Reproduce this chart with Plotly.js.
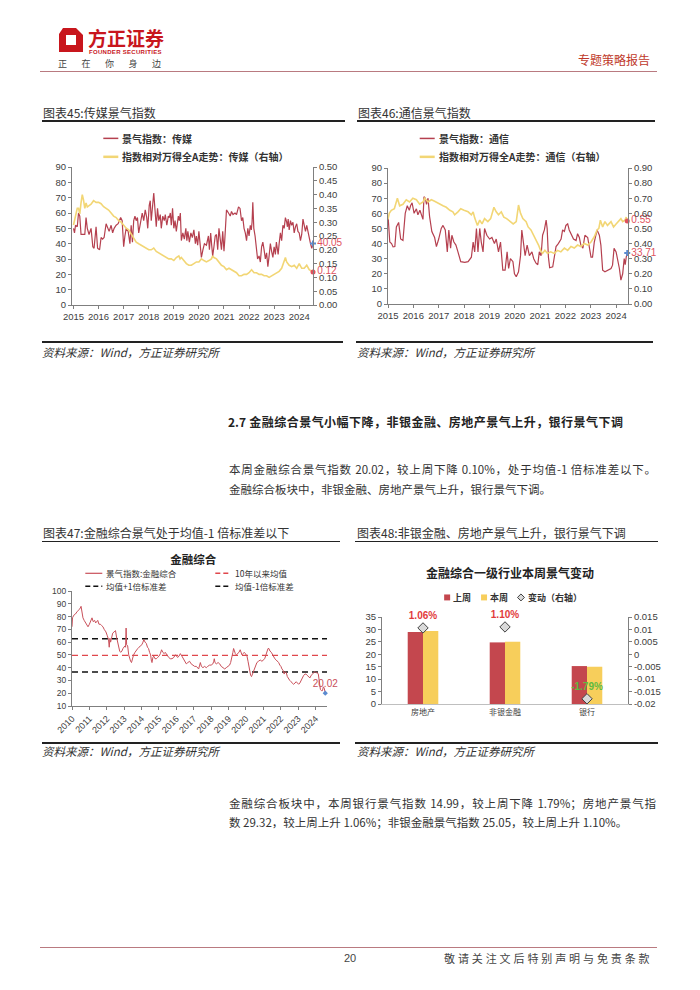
<!DOCTYPE html>
<html><head><meta charset="utf-8">
<script src="https://cdn.plot.ly/plotly-3.0.1.min.js"></script>
<style>
html,body{margin:0;padding:0;background:#fff;}
#page{position:relative;width:700px;height:990px;overflow:hidden;background:#fff;font-family:"Noto Sans CJK SC",sans-serif;color:#333;}
.t{position:absolute;white-space:nowrap;line-height:1;transform:translateY(-50%);}
.j{white-space:normal;text-align:justify;text-align-last:justify;}
.rule{position:absolute;}
.chart{position:absolute;}
</style></head><body><div id="page"></div>
<script>
// ---------------- DATA ----------------
// Chart 45: 传媒
const yearTicks15 = ['2015','2016','2017','2018','2019','2020','2021','2022','2023','2024'];
const mediaX = [2015.00,2015.04,2015.08,2015.15,2015.20,2015.25,2015.30,2015.38,2015.45,2015.50,2015.55,2015.62,2015.70,2015.77,2015.82,2015.90,2015.96,2016.04,2016.10,2016.16,2016.22,2016.30,2016.36,2016.42,2016.50,2016.56,2016.62,2016.70,2016.78,2016.88,2016.94,2017.00,2017.05,2017.10,2017.18,2017.25,2017.30,2017.35,2017.40,2017.45,2017.50,2017.55,2017.60,2017.66,2017.74,2017.80,2017.86,2017.92,2017.96,2018.02,2018.06,2018.10,2018.15,2018.20,2018.25,2018.30,2018.35,2018.40,2018.46,2018.50,2018.56,2018.62,2018.66,2018.72,2018.78,2018.82,2018.86,2018.90,2018.95,2019.00,2019.05,2019.10,2019.18,2019.22,2019.26,2019.30,2019.36,2019.42,2019.48,2019.52,2019.56,2019.62,2019.68,2019.74,2019.80,2019.86,2019.90,2019.95,2020.00,2020.05,2020.10,2020.16,2020.22,2020.30,2020.38,2020.42,2020.47,2020.51,2020.55,2020.60,2020.65,2020.70,2020.75,2020.80,2020.85,2020.90,2020.95,2021.00,2021.03,2021.06,2021.10,2021.18,2021.25,2021.30,2021.36,2021.44,2021.50,2021.58,2021.64,2021.70,2021.75,2021.80,2021.85,2021.90,2021.95,2022.00,2022.05,2022.09,2022.12,2022.15,2022.19,2022.24,2022.29,2022.34,2022.40,2022.45,2022.50,2022.55,2022.60,2022.65,2022.70,2022.75,2022.80,2022.85,2022.90,2022.95,2023.00,2023.05,2023.09,2023.12,2023.16,2023.20,2023.25,2023.30,2023.35,2023.40,2023.45,2023.50,2023.53,2023.56,2023.60,2023.65,2023.70,2023.75,2023.80,2023.85,2023.90,2023.95,2024.00,2024.05,2024.10,2024.15,2024.20,2024.25,2024.30,2024.35,2024.40,2024.45,2024.50,2024.55];
const mediaIdx = [50,47,52,51,60,58,46,46,46,57,50,46,50,38,37,51,37,36,44,43,44,53,50,48,52,47,50,52,53,57,55,38,45,50,48,40,52,41,55,58,55,57,47,52,60,55,62,57,50,65,68,55,64,73,62,51,63,55,59,50,58,55,59,52,58,57,60,52,63,50,55,48,58,55,60,42,47,43,50,42,48,41,47,44,49,40,45,39,48,37,31,36,40,39,45,36,47,39,32,38,45,46,36,50,42,36,48,35,42,50,62,60,58,61,59,60,59,64,63,55,57,50,47,42,50,45,52,49,54,67,50,45,38,30,32,28,38,41,36,30,34,25,32,40,35,31,38,33,41,36,33,40,47,42,52,50,57,54,51,56,49,55,52,54,47,51,53,48,47,42,46,56,51,48,52,47,44,40,37,40.05];
const mediaRelX = [2015.00,2015.06,2015.10,2015.15,2015.20,2015.25,2015.30,2015.35,2015.40,2015.45,2015.50,2015.55,2015.62,2015.70,2015.80,2015.90,2016.00,2016.10,2016.20,2016.30,2016.40,2016.50,2016.60,2016.70,2016.80,2016.90,2017.00,2017.10,2017.20,2017.30,2017.40,2017.50,2017.60,2017.70,2017.80,2017.90,2018.00,2018.10,2018.20,2018.30,2018.40,2018.50,2018.60,2018.70,2018.80,2018.90,2019.00,2019.10,2019.20,2019.25,2019.30,2019.40,2019.50,2019.60,2019.70,2019.80,2019.90,2020.00,2020.10,2020.20,2020.30,2020.40,2020.50,2020.55,2020.60,2020.70,2020.80,2020.90,2021.00,2021.10,2021.20,2021.30,2021.40,2021.50,2021.60,2021.70,2021.80,2021.90,2022.00,2022.10,2022.20,2022.30,2022.40,2022.50,2022.60,2022.70,2022.80,2022.90,2023.00,2023.10,2023.20,2023.30,2023.40,2023.45,2023.50,2023.60,2023.70,2023.80,2023.90,2024.00,2024.10,2024.20,2024.30,2024.40,2024.50,2024.55];
const mediaRel = [0.29,0.31,0.33,0.35,0.35,0.33,0.37,0.40,0.38,0.35,0.37,0.355,0.36,0.365,0.378,0.372,0.372,0.367,0.356,0.35,0.344,0.333,0.322,0.317,0.306,0.30,0.289,0.278,0.272,0.256,0.244,0.228,0.222,0.217,0.211,0.206,0.20,0.20,0.206,0.194,0.189,0.183,0.178,0.172,0.167,0.167,0.161,0.172,0.178,0.167,0.172,0.161,0.15,0.144,0.144,0.15,0.156,0.156,0.167,0.161,0.156,0.161,0.167,0.178,0.172,0.167,0.156,0.144,0.139,0.128,0.133,0.128,0.122,0.117,0.106,0.106,0.111,0.111,0.117,0.128,0.117,0.117,0.111,0.111,0.106,0.106,0.10,0.106,0.111,0.117,0.122,0.133,0.156,0.172,0.156,0.144,0.139,0.144,0.133,0.15,0.133,0.133,0.144,0.128,0.122,0.12];

// Chart 46: 通信
const commX = [2015.00,2015.07,2015.14,2015.20,2015.27,2015.33,2015.42,2015.50,2015.59,2015.68,2015.76,2015.84,2015.89,2015.95,2016.03,2016.12,2016.18,2016.26,2016.34,2016.38,2016.42,2016.47,2016.52,2016.58,2016.64,2016.73,2016.84,2016.91,2017.00,2017.10,2017.17,2017.26,2017.34,2017.40,2017.47,2017.52,2017.60,2017.68,2017.76,2017.87,2018.03,2018.16,2018.29,2018.36,2018.42,2018.49,2018.55,2018.62,2018.68,2018.75,2018.81,2018.90,2019.01,2019.10,2019.20,2019.27,2019.36,2019.44,2019.53,2019.62,2019.70,2019.76,2019.83,2019.93,2019.99,2020.06,2020.15,2020.23,2020.28,2020.36,2020.41,2020.49,2020.58,2020.68,2020.75,2020.84,2020.91,2020.97,2021.04,2021.10,2021.17,2021.24,2021.28,2021.33,2021.38,2021.50,2021.56,2021.63,2021.72,2021.83,2021.89,2021.96,2022.02,2022.09,2022.15,2022.25,2022.32,2022.42,2022.48,2022.55,2022.61,2022.69,2022.77,2022.88,2022.94,2023.01,2023.07,2023.14,2023.25,2023.34,2023.40,2023.47,2023.56,2023.66,2023.80,2023.86,2023.92,2024.00,2024.06,2024.13,2024.19,2024.26,2024.32,2024.36,2024.40,2024.44];
const commIdx = [58.8,41,40,37.8,38,51,54,43,42,60,65,62,65,67,60,63,59,62,58,56,71,70,66,70,58,48,44,38,43,50,52,49,34.5,49,37,45.5,41,39,34.5,28,27.5,28,31,41,34.5,50,34.5,50,41,34.5,50,45.5,43,44,40,43,34.5,41,22.4,22.4,34.5,23.5,30,28,20,18,21.3,32,49,40,32,39,32,34.5,30,27,26,34.5,32,45.5,49,55.5,50,31,24,24.6,30,38,40,43,49,48,52,53,49,45.5,43,42,46.5,44,39,37,45.5,44,38,31,31,41,49,45.5,39,22.4,21.3,22.4,23.5,25.7,36.8,34.5,30,23.5,15.8,20,30,26,31,33.71];
const commRelX = [2015.00,2015.05,2015.13,2015.25,2015.37,2015.46,2015.59,2015.72,2015.85,2015.98,2016.12,2016.25,2016.38,2016.45,2016.58,2016.71,2016.84,2017.04,2017.17,2017.30,2017.44,2017.56,2017.63,2017.76,2017.87,2018.00,2018.16,2018.29,2018.36,2018.42,2018.53,2018.62,2018.71,2018.81,2018.94,2019.05,2019.12,2019.18,2019.27,2019.36,2019.47,2019.57,2019.68,2019.81,2019.94,2020.06,2020.15,2020.23,2020.32,2020.45,2020.53,2020.64,2020.75,2020.84,2020.94,2021.02,2021.10,2021.19,2021.29,2021.42,2021.56,2021.69,2021.82,2021.96,2022.09,2022.22,2022.35,2022.48,2022.61,2022.74,2022.88,2023.01,2023.14,2023.25,2023.32,2023.38,2023.47,2023.56,2023.66,2023.80,2023.90,2024.00,2024.10,2024.19,2024.26,2024.35,2024.40,2024.44];
const commRel = [0.56,0.60,0.62,0.63,0.70,0.65,0.66,0.69,0.675,0.70,0.69,0.66,0.675,0.70,0.675,0.69,0.68,0.665,0.65,0.64,0.62,0.61,0.59,0.61,0.63,0.62,0.61,0.59,0.61,0.57,0.52,0.555,0.53,0.565,0.545,0.565,0.61,0.64,0.61,0.59,0.61,0.575,0.565,0.545,0.53,0.545,0.655,0.60,0.565,0.545,0.51,0.49,0.455,0.42,0.39,0.355,0.335,0.355,0.335,0.345,0.335,0.355,0.345,0.37,0.355,0.38,0.37,0.39,0.38,0.40,0.39,0.41,0.445,0.49,0.50,0.555,0.51,0.545,0.52,0.545,0.51,0.53,0.545,0.565,0.545,0.555,0.575,0.55];

// Chart 47: 金融综合
const yearTicks10 = ['2010','2011','2012','2013','2014','2015','2016','2017','2018','2019','2020','2021','2022','2023','2024'];
const finX = [2010.00,2010.03,2010.10,2010.20,2010.30,2010.45,2010.52,2010.58,2010.63,2010.70,2010.77,2010.85,2010.92,2011.00,2011.07,2011.15,2011.22,2011.30,2011.36,2011.42,2011.48,2011.55,2011.63,2011.70,2011.78,2011.85,2011.95,2012.03,2012.10,2012.14,2012.18,2012.22,2012.28,2012.34,2012.42,2012.50,2012.56,2012.62,2012.68,2012.74,2012.80,2012.87,2012.93,2012.98,2013.04,2013.08,2013.11,2013.14,2013.20,2013.26,2013.31,2013.37,2013.42,2013.48,2013.54,2013.62,2013.70,2013.78,2013.85,2013.93,2014.02,2014.08,2014.13,2014.20,2014.27,2014.34,2014.40,2014.46,2014.52,2014.57,2014.60,2014.65,2014.70,2014.77,2014.85,2014.92,2015.00,2015.08,2015.15,2015.22,2015.30,2015.36,2015.45,2015.56,2015.65,2015.75,2015.85,2015.94,2016.02,2016.07,2016.15,2016.23,2016.32,2016.42,2016.50,2016.57,2016.66,2016.76,2016.85,2016.95,2017.05,2017.15,2017.22,2017.28,2017.34,2017.38,2017.44,2017.53,2017.62,2017.72,2017.80,2017.91,2018.00,2018.10,2018.15,2018.18,2018.22,2018.30,2018.40,2018.49,2018.58,2018.68,2018.78,2018.87,2018.96,2019.06,2019.12,2019.20,2019.25,2019.29,2019.34,2019.39,2019.45,2019.52,2019.60,2019.67,2019.72,2019.77,2019.84,2019.90,2019.97,2020.06,2020.12,2020.17,2020.22,2020.27,2020.32,2020.38,2020.45,2020.55,2020.63,2020.72,2020.82,2020.92,2021.02,2021.08,2021.15,2021.21,2021.27,2021.32,2021.38,2021.46,2021.53,2021.59,2021.66,2021.74,2021.81,2021.88,2021.95,2022.01,2022.07,2022.13,2022.17,2022.20,2022.26,2022.32,2022.38,2022.45,2022.52,2022.59,2022.66,2022.74,2022.82,2022.89,2022.96,2023.03,2023.10,2023.16,2023.24,2023.32,2023.40,2023.45,2023.52,2023.60,2023.68,2023.75,2023.82,2023.90,2023.97,2024.04,2024.10,2024.16,2024.20,2024.23,2024.28,2024.34,2024.40,2024.45,2024.50,2024.56];
const finIdx = [72,79,81,82,84,86,88,82,79,77,75,73,72,74,76,79,76,77,75,76,77,74,74,73,72,70,68,65,62,56,63,60,64,67,68,69,64,60,56,53,52,53,55,56,57,56,71,58,57,50,47,45,44,48,50,52,54,55,56,57,58,60,62,60,59,56,55,52,50,45,44,48,49,47,47,48,49,51,54,52,51,52,50,48,47,47,48,50,49,48,49,51,49,47,45,43,44,45,43,42,41,41,40,39,42,44,41,40,41,40,41,42,42,43,45,47,44,43,44,43,41,40,39,40,41,42,44,48,52,55,52,51,50,51,52,54,52,50,51,52,51,49,45,40,36,34,33,35,38,41,44,45,46,45,46,47,50,53,55,55,53,52,50,49,47,46,45,44,42,41,39,38,36,35,37,36,33,31,30,29,28,27,28,29,28,27,28,30,32,34,35,35,34,33,32,34,35,36,37,36,36,35,30,25,23,22,22,25,24,20.02];
const finMean = 49.6, finUpper = 62.6, finLower = 36.6;

// Chart 48: 金融综合一级行业本周景气变动
const sectors = ['房地产','非银金融','银行'];
const lastWeek = [29.01, 24.78, 15.26];
const thisWeek = [29.32, 25.05, 14.99];
const weeklyChange = [0.0106, 0.0110, -0.0179];
const changeText = ['1.06%','1.10%','-1.79%'];
const rightTickVals48 = [0.015,0.01,0.005,0,-0.005,-0.01,-0.015,-0.02];
const rightTickText48 = ['0.015','0.01','0.005','0','-0.005','-0.01','-0.015','-0.02'];

// ---------------- PAGE ----------------
const page = document.getElementById('page');
function addText(x, y, str, style, cls) {
  const d = document.createElement('div');
  d.className = 't' + (cls ? ' ' + cls : '');
  d.style.left = x + 'px'; d.style.top = y + 'px';
  d.textContent = str; Object.assign(d.style, style || {});
  page.appendChild(d); return d;
}
function addRule(x0, x1, y, h, color) {
  const d = document.createElement('div'); d.className = 'rule';
  Object.assign(d.style, {left: x0 + 'px', width: (x1 - x0) + 'px', top: y + 'px', height: h + 'px', background: color});
  page.appendChild(d);
}
const RED = '#C8161D';
// header
const logo = document.createElementNS('http://www.w3.org/2000/svg', 'svg');
logo.setAttribute('width', '28'); logo.setAttribute('height', '28');
logo.style.position = 'absolute'; logo.style.left = '57px'; logo.style.top = '26px';
logo.innerHTML = '<path d="M6 2 L26 2 L26 26 L2 26 L2 8 Z" fill="' + RED + '"/><path d="M9 9 L19 9 L19 19 L9 19 Z" fill="#fff"/><path d="M19 2 L26 2 L26 9 Z" fill="#fff"/>';
page.appendChild(logo);
addText(88, 37, '方正证券', {fontSize: '19px', fontWeight: 'bold', color: RED, letterSpacing: '0px'});
addText(89, 51.5, 'FOUNDER SECURITIES', {fontSize: '6px', fontWeight: 'bold', color: RED, fontFamily: '"Liberation Sans",Arial,sans-serif', letterSpacing: '0.3px'});
addText(58, 63, '正在你身边', {fontSize: '9px', color: '#444', letterSpacing: '14.5px'});
addText(578, 60, '专题策略报告', {fontSize: '12px', color: '#C0392B'});
addRule(40, 657, 70.5, 1.5, '#B97A80');

// chart titles & rules
const TSTYLE = {fontSize: '12px', color: '#333'};
addText(43, 113, '图表45:传媒景气指数', TSTYLE);
addText(358, 113, '图表46:通信景气指数', TSTYLE);
addRule(42, 345, 120, 1.6, '#222');
addRule(357, 655, 120, 1.6, '#222');
addRule(42, 343, 341, 1.6, '#222');
addRule(356, 653, 341, 1.6, '#222');
const SSTYLE = {fontSize: '11.5px', color: '#333', fontStyle: 'italic'};
addText(42, 353, '资料来源：Wind，方正证券研究所', SSTYLE);
addText(357, 353, '资料来源：Wind，方正证券研究所', SSTYLE);

// section text
addText(228, 422, '2.7 金融综合景气小幅下降，非银金融、房地产景气上升，银行景气下调', {fontSize: '12px', fontWeight: 'bold', color: '#222', width: '395px'}, 'j');
const PSTYLE = {fontSize: '11.5px', color: '#333'};
addText(229, 470, '本周金融综合景气指数 20.02，较上周下降 0.10%，处于均值-1 倍标准差以下。', Object.assign({width: '427px'}, PSTYLE), 'j');
addText(229, 489.5, '金融综合板块中，非银金融、房地产景气上升，银行景气下调。', PSTYLE);

addText(43, 533, '图表47:金融综合景气处于均值-1 倍标准差以下', TSTYLE);
addText(357, 533, '图表48:非银金融、房地产景气上升，银行景气下调', TSTYLE);
addRule(42, 340, 540.5, 1.6, '#222');
addRule(355, 658, 540.5, 1.6, '#222');
addRule(42, 340, 742, 1.6, '#222');
addRule(355, 658, 742, 1.6, '#222');
addText(42, 752, '资料来源：Wind，方正证券研究所', SSTYLE);
addText(357, 752, '资料来源：Wind，方正证券研究所', SSTYLE);

addText(229, 803.5, '金融综合板块中，本周银行景气指数 14.99，较上周下降 1.79%；房地产景气指', Object.assign({width: '427px'}, PSTYLE), 'j');
addText(229, 823, '数 29.32，较上周上升 1.06%；非银金融景气指数 25.05，较上周上升 1.10%。', PSTYLE);

// footer
addRule(40, 657, 946.5, 1.5, '#B97A80');
addText(344, 958, '20', {fontSize: '11px', color: '#444', fontFamily: '"Liberation Sans",Arial,sans-serif'});
addText(444, 958, '敬请关注文后特别声明与免责条款', {fontSize: '11px', color: '#444', letterSpacing: '2.9px'});

// ---------------- CHARTS ----------------
const NUM = 'Arial, "Liberation Sans", "Noto Sans CJK SC", sans-serif';
const CJK = '"Noto Sans CJK SC", sans-serif';
const LRED = '#B5404F', LYEL = '#F2D675';
function frame(div, plot) {
  const el = document.createElement('div'); el.className = 'chart';
  Object.assign(el.style, {left: div.left + 'px', top: div.top + 'px', width: div.w + 'px', height: div.h + 'px'});
  page.appendChild(el);
  return {
    el,
    margin: {l: plot.x0 - div.left, r: div.left + div.w - plot.x1, t: plot.y0 - div.top, b: div.top + div.h - plot.y1, pad: 0},
    px: X => (X - plot.x0) / (plot.x1 - plot.x0),
    py: Y => (plot.y1 - Y) / (plot.y1 - plot.y0),
    cy: Y => 1 - (Y - div.top) / div.h,
    div
  };
}
function axis(extra) {
  return Object.assign({showline: true, linecolor: '#7f7f7f', linewidth: 1, ticks: 'outside', ticklen: 3, tickcolor: '#7f7f7f',
    showgrid: false, zeroline: false, fixedrange: true, automargin: false, tickfont: {family: NUM, size: 9.5, color: '#404040'}}, extra);
}
function legLine(F, x0, x1, y, color, width, dash) {
  return {type: 'line', xref: 'paper', yref: 'paper', x0: F.px(x0), x1: F.px(x1), y0: F.py(y), y1: F.py(y), line: {color, width, dash: dash || 'solid'}};
}
function legText(F, x, y, text, size, bold) {
  return {xref: 'paper', yref: 'paper', x: F.px(x), y: F.py(y), text, showarrow: false, xanchor: 'left', yanchor: 'middle',
    borderpad: 0, font: {family: CJK, size, color: '#333', weight: bold ? 'bold' : 'normal'}};
}
const CFG = {staticPlot: true, displayModeBar: false};
const BASE = {paper_bgcolor: 'rgba(0,0,0,0)', plot_bgcolor: 'rgba(0,0,0,0)', showlegend: false, font: {family: NUM}};

function dualChart(F, xr, tickLabels, idxX, idxY, relX, relY, y2max, y2dtick, legendX, name, endIdx, endRel) {
  const traces = [
    {x: idxX, y: idxY, type: 'scatter', mode: 'lines', line: {color: LRED, width: 1.2}, yaxis: 'y'},
    {x: relX, y: relY, type: 'scatter', mode: 'lines', line: {color: LYEL, width: 1.6}, yaxis: 'y2'},
    {x: [idxX[idxX.length - 1]], y: [endIdx], type: 'scatter', mode: 'markers+text', yaxis: 'y', cliponaxis: false,
      marker: {color: '#5B8BD0', size: 5, symbol: 'cross'}, text: [String(endIdx)], textposition: 'middle right',
      textfont: {family: NUM, size: 10, color: '#E0525E'}},
    {x: [relX[relX.length - 1]], y: [endRel], type: 'scatter', mode: 'markers+text', yaxis: 'y2', cliponaxis: false,
      marker: {color: '#E0525E', size: 5}, text: [endRel.toFixed(2)], textposition: 'middle right',
      textfont: {family: NUM, size: 10, color: '#E0525E'}}
  ];
  const layout = Object.assign({}, BASE, {
    width: F.div.w, height: F.div.h, margin: F.margin,
    xaxis: axis({range: xr, tickvals: tickLabels.map(Number), ticktext: tickLabels, tickangle: 0}),
    yaxis: axis({range: [0, 90], dtick: 10}),
    yaxis2: axis({range: [0, y2max], dtick: y2dtick, tickformat: '.2f', overlaying: 'y', side: 'right'}),
    shapes: [legLine(F, legendX, legendX + 15, 138, LRED, 1.5), legLine(F, legendX, legendX + 15, 156.5, LYEL, 2.5)],
    annotations: [legText(F, legendX + 18, 138, '景气指数：' + name, 10, true),
      legText(F, legendX + 18, 156.5, '指数相对万得全A走势：' + name + '（右轴）', 10, true)]
  });
  Plotly.newPlot(F.el, traces, layout, CFG);
}

const F45 = frame({left: 0, top: 125, w: 350, h: 200}, {x0: 71.7, x1: 312.7, y0: 166.7, y1: 305});
dualChart(F45, [2014.94, 2024.55], yearTicks15, mediaX, mediaIdx, mediaRelX, mediaRel, 0.5, 0.05, 103, '传媒', 40.05, 0.12);
const F46 = frame({left: 350, top: 125, w: 350, h: 200}, {x0: 388.3, x1: 628.3, y0: 167.7, y1: 304.3});
dualChart(F46, [2015.0, 2024.47], yearTicks15, commX, commIdx, commRelX, commRel, 0.9, 0.1, 420, '通信', 33.71, 0.55);

// Chart 47
(function () {
  const F = frame({left: 0, top: 545, w: 350, h: 195}, {x0: 71.7, x1: 326.7, y0: 590.7, y1: 705.7});
  const xr = [2010, 2024.66];
  const traces = [
    {x: [2010, 2024.66], y: [finMean, finMean], mode: 'lines', line: {color: '#E0474C', width: 1.4, dash: '6px,4px'}},
    {x: [2010, 2024.66], y: [finUpper, finUpper], mode: 'lines', line: {color: '#111', width: 1.4, dash: '6px,4px'}},
    {x: [2010, 2024.66], y: [finLower, finLower], mode: 'lines', line: {color: '#111', width: 1.4, dash: '6px,4px'}},
    {x: finX, y: finIdx, mode: 'lines', line: {color: '#C9505A', width: 1}},
    {x: [finX[finX.length - 1]], y: [finIdx[finIdx.length - 1]], mode: 'markers+text', cliponaxis: false,
      marker: {color: '#5B8BD0', size: 4, symbol: 'diamond'}, text: [String(finIdx[finIdx.length - 1])], textposition: 'top center',
      textfont: {family: NUM, size: 10, color: '#C9505A'}}
  ];
  const layout = Object.assign({}, BASE, {
    width: F.div.w, height: F.div.h, margin: F.margin,
    title: {text: '金融综合', font: {family: CJK, size: 11.5, color: '#222', weight: 'bold'}, xref: 'paper', x: F.px(193), xanchor: 'center',
      yref: 'container', y: F.cy(560), yanchor: 'middle'},
    xaxis: axis({range: xr, tickmode: 'array', tickvals: yearTicks10.map(Number), ticktext: yearTicks10, tickangle: -45,
      tickfont: {family: NUM, size: 9, color: '#404040'}}),
    yaxis: axis({range: [10, 100], dtick: 10, tickfont: {family: NUM, size: 8.5, color: '#404040'}}),
    shapes: [legLine(F, 85, 102, 573, '#C9505A', 1.2), legLine(F, 215, 231, 573, '#E0474C', 1.4, '5px,3px'),
      legLine(F, 85, 102, 586, '#111', 1.4, '5px,3px'), legLine(F, 215, 231, 586, '#111', 1.4, '5px,3px')],
    annotations: [legText(F, 105, 573, '景气指数:金融综合', 8.5), legText(F, 234, 573, '10年以来均值', 8.5),
      legText(F, 105, 586, '均值+1倍标准差', 8.5), legText(F, 234, 586, '均值-1倍标准差', 8.5)]
  });
  Plotly.newPlot(F.el, traces, layout, CFG);
})();

// Chart 48
(function () {
  const F = frame({left: 350, top: 545, w: 350, h: 195}, {x0: 381.7, x1: 628.3, y0: 616.7, y1: 704.3});
  const BRED = '#C4474E', BYEL = '#F7CE5B';
  const traces = [
    {x: sectors, y: lastWeek, type: 'bar', marker: {color: BRED}, yaxis: 'y'},
    {x: sectors, y: thisWeek, type: 'bar', marker: {color: BYEL}, yaxis: 'y'},
    {x: sectors, y: weeklyChange, type: 'scatter', mode: 'markers+text', yaxis: 'y2', cliponaxis: false,
      marker: {symbol: 'diamond', size: 8, color: '#D9D9D9', line: {color: '#404040', width: 1}},
      text: changeText, textposition: 'top center',
      textfont: {family: NUM, size: 10, weight: 'bold', color: weeklyChange.map(v => v >= 0 ? '#E23B3B' : '#5DBB3F')}}
  ];
  const dia = (cx, cy, r) => `M${F.px(cx)},${F.py(cy - r)} L${F.px(cx + r)},${F.py(cy)} L${F.px(cx)},${F.py(cy + r)} L${F.px(cx - r)},${F.py(cy)} Z`;
  const rect = (cx, cy, s, c) => ({type: 'rect', xref: 'paper', yref: 'paper', x0: F.px(cx - s), x1: F.px(cx + s), y0: F.py(cy + s), y1: F.py(cy - s), fillcolor: c, line: {width: 0}});
  const layout = Object.assign({}, BASE, {
    width: F.div.w, height: F.div.h, margin: F.margin, barmode: 'group', bargap: 0.627, bargroupgap: 0,
    title: {text: '金融综合一级行业本周景气变动', font: {family: CJK, size: 12, color: '#222', weight: 'bold'}, xref: 'paper', x: F.px(510), xanchor: 'center',
      yref: 'container', y: F.cy(574), yanchor: 'middle'},
    xaxis: axis({type: 'category', ticks: '', linecolor: '#bfbfbf', tickangle: 0, tickfont: {family: CJK, size: 8, color: '#404040'}}),
    yaxis: axis({range: [0, 35], dtick: 5}),
    yaxis2: axis({range: [-0.02, 0.015], tickvals: rightTickVals48, ticktext: rightTickText48, overlaying: 'y', side: 'right'}),
    shapes: [rect(447, 597, 3, BRED), rect(484, 597, 3, BYEL),
      {type: 'path', xref: 'paper', yref: 'paper', path: dia(521, 597, 3.5), fillcolor: '#D9D9D9', line: {color: '#404040', width: 1}}],
    annotations: [legText(F, 452, 597, '上周', 9, true), legText(F, 489, 597, '本周', 9, true), legText(F, 527, 597, '变动（右轴）', 9, true)]
  });
  Plotly.newPlot(F.el, traces, layout, CFG);
})();
</script></body></html>
